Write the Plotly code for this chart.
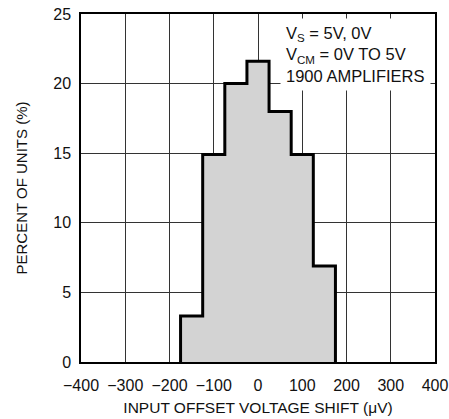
import plotly.graph_objects as go

# Data
bin_centers = [-150, -100, -50, 0, 50, 100, 150]
percent_units = [3.3, 14.9, 20.0, 21.6, 18.0, 14.9, 6.9]
bin_width = 50
x_tickvals = [-400, -300, -200, -100, 0, 100, 200, 300, 400]
x_ticktext = ["\u2212400", "\u2212300", "\u2212200", "\u2212100", "0", "100", "200", "300", "400"]
y_tickvals = [0, 5, 10, 15, 20, 25]

FONT = "Liberation Sans, Arial, sans-serif"

# Step outline built from the bins
ox, oy = [], []
first_edge = bin_centers[0] - bin_width / 2
ox.append(first_edge); oy.append(0)
for c, h in zip(bin_centers, percent_units):
    ox += [c - bin_width / 2, c + bin_width / 2]
    oy += [h, h]
ox.append(bin_centers[-1] + bin_width / 2); oy.append(0)

fig = go.Figure()
fig.add_trace(go.Bar(
    x=bin_centers, y=percent_units, width=bin_width,
    marker=dict(color="#d3d3d3", line=dict(width=0)),
    showlegend=False, hoverinfo="skip",
))
fig.add_trace(go.Scatter(
    x=ox, y=oy, mode="lines",
    line=dict(color="black", width=3),
    showlegend=False, hoverinfo="skip",
))

fig.add_annotation(
    xref="x", yref="y", x=49, y=24.7, xanchor="left", yanchor="top",
    text="V<sub>S</sub> = 5V, 0V<br>V<sub>CM</sub> = 0V TO 5V<br>1900 AMPLIFIERS",
    showarrow=False, align="left", bgcolor="white", borderpad=5,
    font=dict(family=FONT, size=16.5, color="#111"),
)

fig.update_layout(
    width=449, height=419,
    margin=dict(l=81, r=14, t=14, b=57),
    paper_bgcolor="white", plot_bgcolor="white",
    font=dict(family=FONT, size=16, color="#111"),
    bargap=0,
)
fig.update_xaxes(
    range=[-400, 400], tickvals=x_tickvals, ticktext=x_ticktext,
    showgrid=True, gridcolor="#333", gridwidth=1,
    showline=True, linecolor="black", linewidth=1.5, mirror=True,
    ticks="", zeroline=False, layer="above traces", ticklabelstandoff=8,
    automargin=False,
    title=dict(text="INPUT OFFSET VOLTAGE SHIFT (\u03bcV)", font=dict(size=15.5), standoff=9),
)
fig.update_yaxes(
    range=[0, 25], tickvals=y_tickvals,
    showgrid=True, gridcolor="#333", gridwidth=1,
    showline=True, linecolor="black", linewidth=1.5, mirror=True,
    ticks="", zeroline=False, layer="above traces", ticklabelstandoff=5,
    automargin=False,
    title=dict(text="PERCENT OF UNITS (%)", font=dict(size=15), standoff=22),
)

fig.write_html("out.html")
